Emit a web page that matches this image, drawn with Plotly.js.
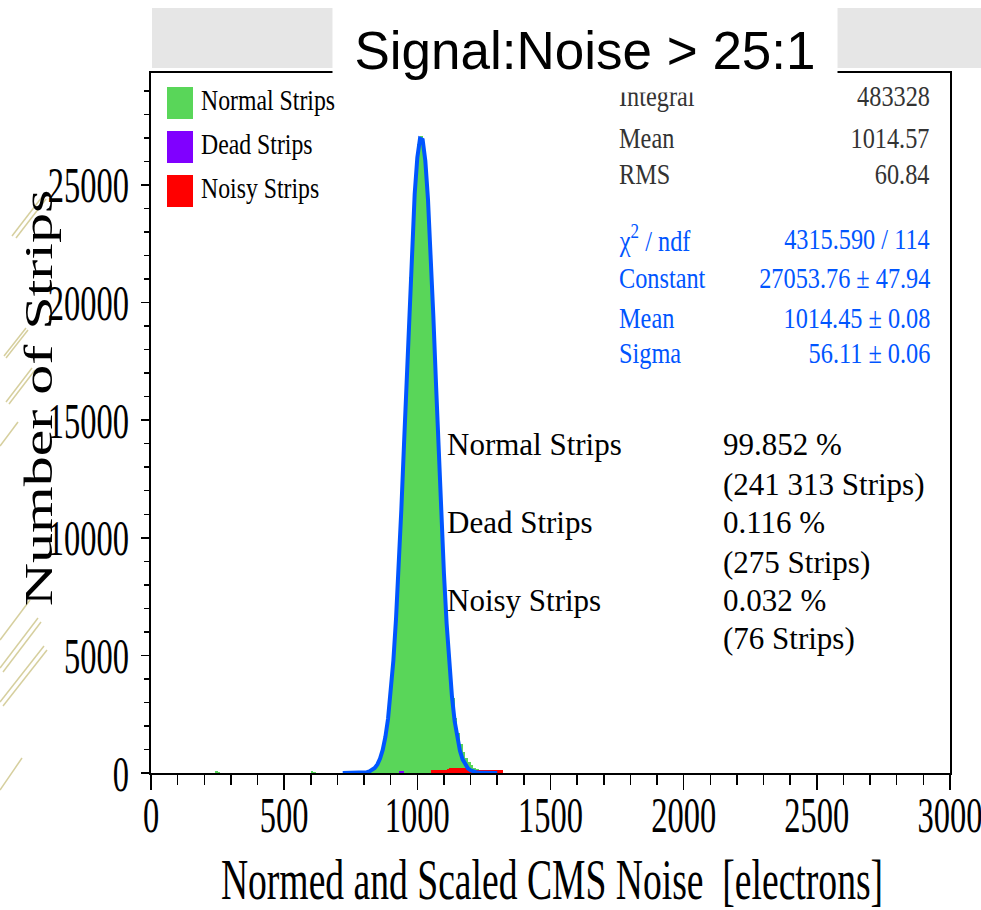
<!DOCTYPE html>
<html>
<head>
<meta charset="utf-8">
<script src="https://cdn.plot.ly/plotly-3.0.1.min.js"></script>
<style>html,body{margin:0;padding:0;background:#fff;}#chart{width:981px;height:910px;}</style>
</head>
<body>
<div id="chart"></div>
<script>
// ---------- data ----------
const binCenters = [245,255,605,615,
  705,715,725,735,745,755,765,775,785,795,805,815,825,835,845,855,865,875,885,895,
  905,915,925,935,945,955,965,975,985,995,1005,1015,1025,1035,1045,1055,1065,1075,1085,1095,
  1105,1115,1125,1135,1145,1155,1165,1175,1185,1195,1205,1215,1225,1235,1245,1255,1265,1275,1285,1295,
  1305,1315,1325,1335,1345];
const normalCounts = [90,60,100,50,
  0,0,0,0,0,1,2,4,8,15,30,55,95,165,280,480,790,1250,1900,2820,
  4050,5650,7600,9950,12600,15450,18350,21100,23550,25500,26750,27100,26650,25350,23400,20950,18200,15350,12550,9950,
  7700,5850,4350,3200,2350,1700,1250,900,640,450,320,220,150,100,70,45,30,20,12,8,
  5,3,2,1,0];
const deadCenters = [935,945,1115];
const deadCounts  = [80,70,70];
const noisyCenters = [1055,1065,1075,1085,1095,1105,1115,1125,1135,1145,1155,1165,1175,1185,1195,1205,1215,1225,1235,1245,1255,1265,1275,1285,1295,1305,1315];
const noisyCounts  = [130,130,130,130,130,130,150,220,230,230,230,230,230,220,210,150,130,130,130,130,130,130,130,130,130,130,130];
const fitX = [720,730,740,750,760,770,780,790,800,810,820,830,840,850,860,870,880,890,900,910,920,930,940,950,960,970,980,990,
  1000,1010,1020,1030,1040,1050,1060,1070,1080,1090,1100,1110,1120,1130,1140,1150,1160,1170,1180,1190,1200,1210,1220,1230,1240,1250,1260,1270,1280,1290,1300];
const fitY = [0,0,0,0,1,2,5,10,18,36,66,120,215,367,610,980,1530,2310,3380,4780,6560,8710,11220,13980,16900,19770,22410,24610,
  26170,26970,26920,26030,24390,22130,19460,16570,13680,10930,8460,6350,4610,3250,2210,1460,940,580,350,200,115,62,33,17,8,4,2,1,0,0,0];
const xTickVals = [0,500,1000,1500,2000,2500,3000];
const yTickVals = [0,5000,10000,15000,20000,25000];
const yMax = 29760;
const seriesNames = ["Normal Strips","Dead Strips","Noisy Strips"];
const statLabels = ["Integral","Mean","RMS"];
const statValues = ["483328","1014.57","60.84"];
const fitLabels = ["χ<sup>2</sup> / ndf","Constant","Mean","Sigma"];
const fitValues = ["4315.590 / 114","27053.76 ± 47.94","1014.45 ± 0.08","56.11 ± 0.06"];
const fractionLabels = ["Normal Strips","Dead Strips","Noisy Strips"];
const fractionValues = ["99.852 %","0.116 %","0.032 %"];
const fractionCounts = ["(241 313 Strips)","(275 Strips)","(76 Strips)"];
const titleText = "Signal:Noise > 25:1";
const xTitle = "Normed and Scaled CMS Noise  [electrons]";
const yTitle = "Number of Strips";

// ---------- layout helpers ----------
const PL=151, PR=950, PT=73, PB=773, W=981, H=910;
const px = v => (v-PL)/(PR-PL);
const py = v => (PB-v)/(PB-PT);
const SERIF = "Liberation Serif, Times New Roman, serif";
const GREEN = "#59d659", PURPLE = "#8000ff", RED = "#ff0000", BLUE = "#0055ff";

const traces = [
  {type:"bar", x:binCenters, y:normalCounts, width:10, name:seriesNames[0],
   marker:{color:GREEN, line:{width:0}}},
  {type:"scatter", mode:"lines", x:fitX, y:fitY, name:"gaus fit",
   line:{color:BLUE, width:4}},
  {type:"bar", x:deadCenters, y:deadCounts, width:10, name:seriesNames[1],
   marker:{color:PURPLE, line:{width:0}}},
  {type:"bar", x:noisyCenters, y:noisyCounts, width:10, name:seriesNames[2],
   marker:{color:RED, line:{width:0}}}
];

const ann = [];
const sq = [];
function addAnn(a, squeeze){ ann.push(a); sq.push(squeeze||null); }

const legCols = [GREEN, PURPLE, RED];
const legY = [100,144,188];
seriesNames.forEach((n,i)=>addAnn({xref:"paper",yref:"paper",x:px(199),y:py(legY[i]),xanchor:"left",yanchor:"middle",
  text:n, showarrow:false, font:{family:SERIF,size:29,color:"#000"}},{sx:0.82,anchor:"left"}));
const statY=[96,137,174];
statLabels.forEach((t,i)=>{
  addAnn({xref:"paper",yref:"paper",x:px(617),y:py(statY[i]),xanchor:"left",yanchor:"middle",text:t,showarrow:false,
    font:{family:SERIF,size:30,color:"#333"}},{sx:0.81,anchor:"left"});
  addAnn({xref:"paper",yref:"paper",x:px(932),y:py(statY[i]),xanchor:"right",yanchor:"middle",text:statValues[i],showarrow:false,
    font:{family:SERIF,size:30,color:"#333"}},{sx:0.81,anchor:"right"});
});
const fitRowY=[238,277,317,352];
fitLabels.forEach((t,i)=>{
  addAnn({xref:"paper",yref:"paper",x:px(617),y:py(fitRowY[i]),xanchor:"left",yanchor:"middle",text:t,showarrow:false,
    font:{family:SERIF,size:30,color:BLUE}},{sx:0.81,anchor:"left"});
  addAnn({xref:"paper",yref:"paper",x:px(932),y:py(fitRowY[i]),xanchor:"right",yanchor:"middle",text:fitValues[i],showarrow:false,
    font:{family:SERIF,size:30,color:BLUE}},{sx:0.81,anchor:"right"});
});
const fracY=[445,522,600], cntY=[485,562,638];
fractionLabels.forEach((t,i)=>{
  addAnn({xref:"paper",yref:"paper",x:px(445),y:py(fracY[i]),xanchor:"left",yanchor:"middle",text:t,showarrow:false,
    font:{family:SERIF,size:31,color:"#000"}});
  addAnn({xref:"paper",yref:"paper",x:px(721),y:py(fracY[i]),xanchor:"left",yanchor:"middle",text:fractionValues[i],showarrow:false,
    font:{family:SERIF,size:31,color:"#000"}});
  addAnn({xref:"paper",yref:"paper",x:px(721),y:py(cntY[i]),xanchor:"left",yanchor:"middle",text:fractionCounts[i],showarrow:false,
    font:{family:SERIF,size:31,color:"#000"}});
});
addAnn({xref:"paper",yref:"paper",x:px(585),y:py(50),xanchor:"center",yanchor:"middle",text:titleText,showarrow:false,
  width:502,height:82,bgcolor:"#ffffff",borderpad:1,valign:"middle",
  font:{family:"Liberation Sans, Arial, sans-serif",size:53,color:"#000"}});

const shapes = [
  {type:"rect",xref:"paper",yref:"paper",x0:px(152),x1:px(333),y0:py(68),y1:py(8),fillcolor:"#e6e6e6",line:{width:0},layer:"above"},
  {type:"rect",xref:"paper",yref:"paper",x0:px(837),x1:px(981),y0:py(68),y1:py(8),fillcolor:"#e6e6e6",line:{width:0},layer:"above"}
];
legCols.forEach((c,i)=>shapes.push({type:"rect",xref:"paper",yref:"paper",x0:px(167),x1:px(193),
  y0:py(legY[i]+19),y1:py(legY[i]-13),fillcolor:c,line:{width:0},layer:"above"}));
const deco = [[12,236,42,197],[16,238,46,199],[4,356,26,328],[6,358,28,330],[6,402,32,368],[9,404,35,370],
  [0,446,18,422],[0,640,30,600],[0,668,38,618],[3,672,41,622],[0,702,44,646],[3,706,47,650],[0,790,22,758]];
deco.forEach(d=>shapes.push({type:"line",xref:"paper",yref:"paper",x0:px(d[0]),y0:py(d[1]),x1:px(d[2]),y1:py(d[3]),
  line:{color:"#d6cf9e",width:1.5},layer:"below"}));

const layout = {
  width:W, height:H,
  margin:{l:PL, r:W-PR, t:PT, b:H-PB, pad:0},
  paper_bgcolor:"#fff", plot_bgcolor:"#fff",
  showlegend:false, barmode:"overlay", bargap:0,
  xaxis:{range:[0,3000], tickvals:xTickVals, ticktext:xTickVals.map(String),
    showgrid:false, zeroline:false, showline:true, mirror:true, linecolor:"#000", linewidth:2,
    ticks:"outside", ticklen:15, tickwidth:1.5, tickcolor:"#000", ticklabeloverflow:"allow",
    minor:{dtick:100, tick0:0, ticks:"outside", ticklen:10, tickwidth:1.5, tickcolor:"#000", showgrid:false},
    tickfont:{family:SERIF, size:50, color:"#000"},
    title:{text:xTitle, font:{family:SERIF, size:57, color:"#000"}}},
  yaxis:{range:[0,yMax], tickvals:yTickVals, ticktext:yTickVals.map(String),
    showgrid:false, zeroline:false, showline:true, mirror:true, linecolor:"#000", linewidth:2,
    ticks:"outside", ticklen:8, tickwidth:1.5, tickcolor:"#000",
    minor:{dtick:1000, tick0:0, ticks:"outside", ticklen:5, tickwidth:1.5, tickcolor:"#000", showgrid:false},
    tickfont:{family:SERIF, size:50, color:"#000"}, ticklabelstandoff:2,
    title:{text:yTitle, font:{family:SERIF, size:60, color:"#000"}}},
  annotations: ann,
  shapes: shapes
};

// screen-space transforms applied through a wrapper group (robust to rotated parents)
const SVGNS = "http://www.w3.org/2000/svg";
function screenOp(el, build){
  const svg = el.ownerSVGElement;
  const P = el.parentNode.getCTM();
  const op = build(svg.createSVGMatrix());
  const M = P.inverse().multiply(op).multiply(P);
  const g = document.createElementNS(SVGNS, "g");
  g.setAttribute("transform", `matrix(${M.a},${M.b},${M.c},${M.d},${M.e},${M.f})`);
  el.parentNode.insertBefore(g, el);
  g.appendChild(el);
}
function rectOf(el){
  const svg = el.ownerSVGElement;
  const r = el.getBoundingClientRect(), s = svg.getBoundingClientRect();
  return {l:r.left-s.left, r:r.right-s.left, t:r.top-s.top, b:r.bottom-s.top};
}
function squeeze(el, sx, anchor){
  const r = rectOf(el);
  const p = anchor==="left" ? r.l : anchor==="right" ? r.r : (r.l+r.r)/2;
  screenOp(el, m => m.translate(p,0).scaleNonUniform(sx,1).translate(-p,0));
}
function shift(el, dx, dy){ screenOp(el, m => m.translate(dx,dy)); }
function moveTo(el, cx, cy){
  const r = rectOf(el);
  shift(el, cx-(r.l+r.r)/2, cy-(r.t+r.b)/2);
}
function textsWith(content){
  return Array.from(gd.querySelectorAll("text")).filter(t=>t.textContent.trim()===content && t.getBoundingClientRect().width>0);
}

const gd = document.getElementById("chart");
Plotly.newPlot(gd, traces, layout, {displayModeBar:false, staticPlot:true}).then(()=>{
  gd.querySelectorAll(".xtick text").forEach(e=>{
    squeeze(e,0.65,"center");
    const r = rectOf(e);
    shift(e, 0, 815-(r.t+r.b)/2);
  });
  gd.querySelectorAll(".ytick text").forEach(e=>squeeze(e,0.65,"right"));
  textsWith(xTitle).forEach(xt=>{ squeeze(xt,0.66,"center"); moveTo(xt,552,880); });
  textsWith(yTitle).forEach(yt=>{ squeeze(yt,0.68,"center"); moveTo(yt,38,398); });
  gd.querySelectorAll(".annotation").forEach(g=>{
    const i = +g.getAttribute("data-index");
    const cfg = sq[i];
    const te = g.querySelector("text");
    if (cfg && te) squeeze(te, cfg.sx, cfg.anchor);
  });
});
</script>
</body>
</html>
